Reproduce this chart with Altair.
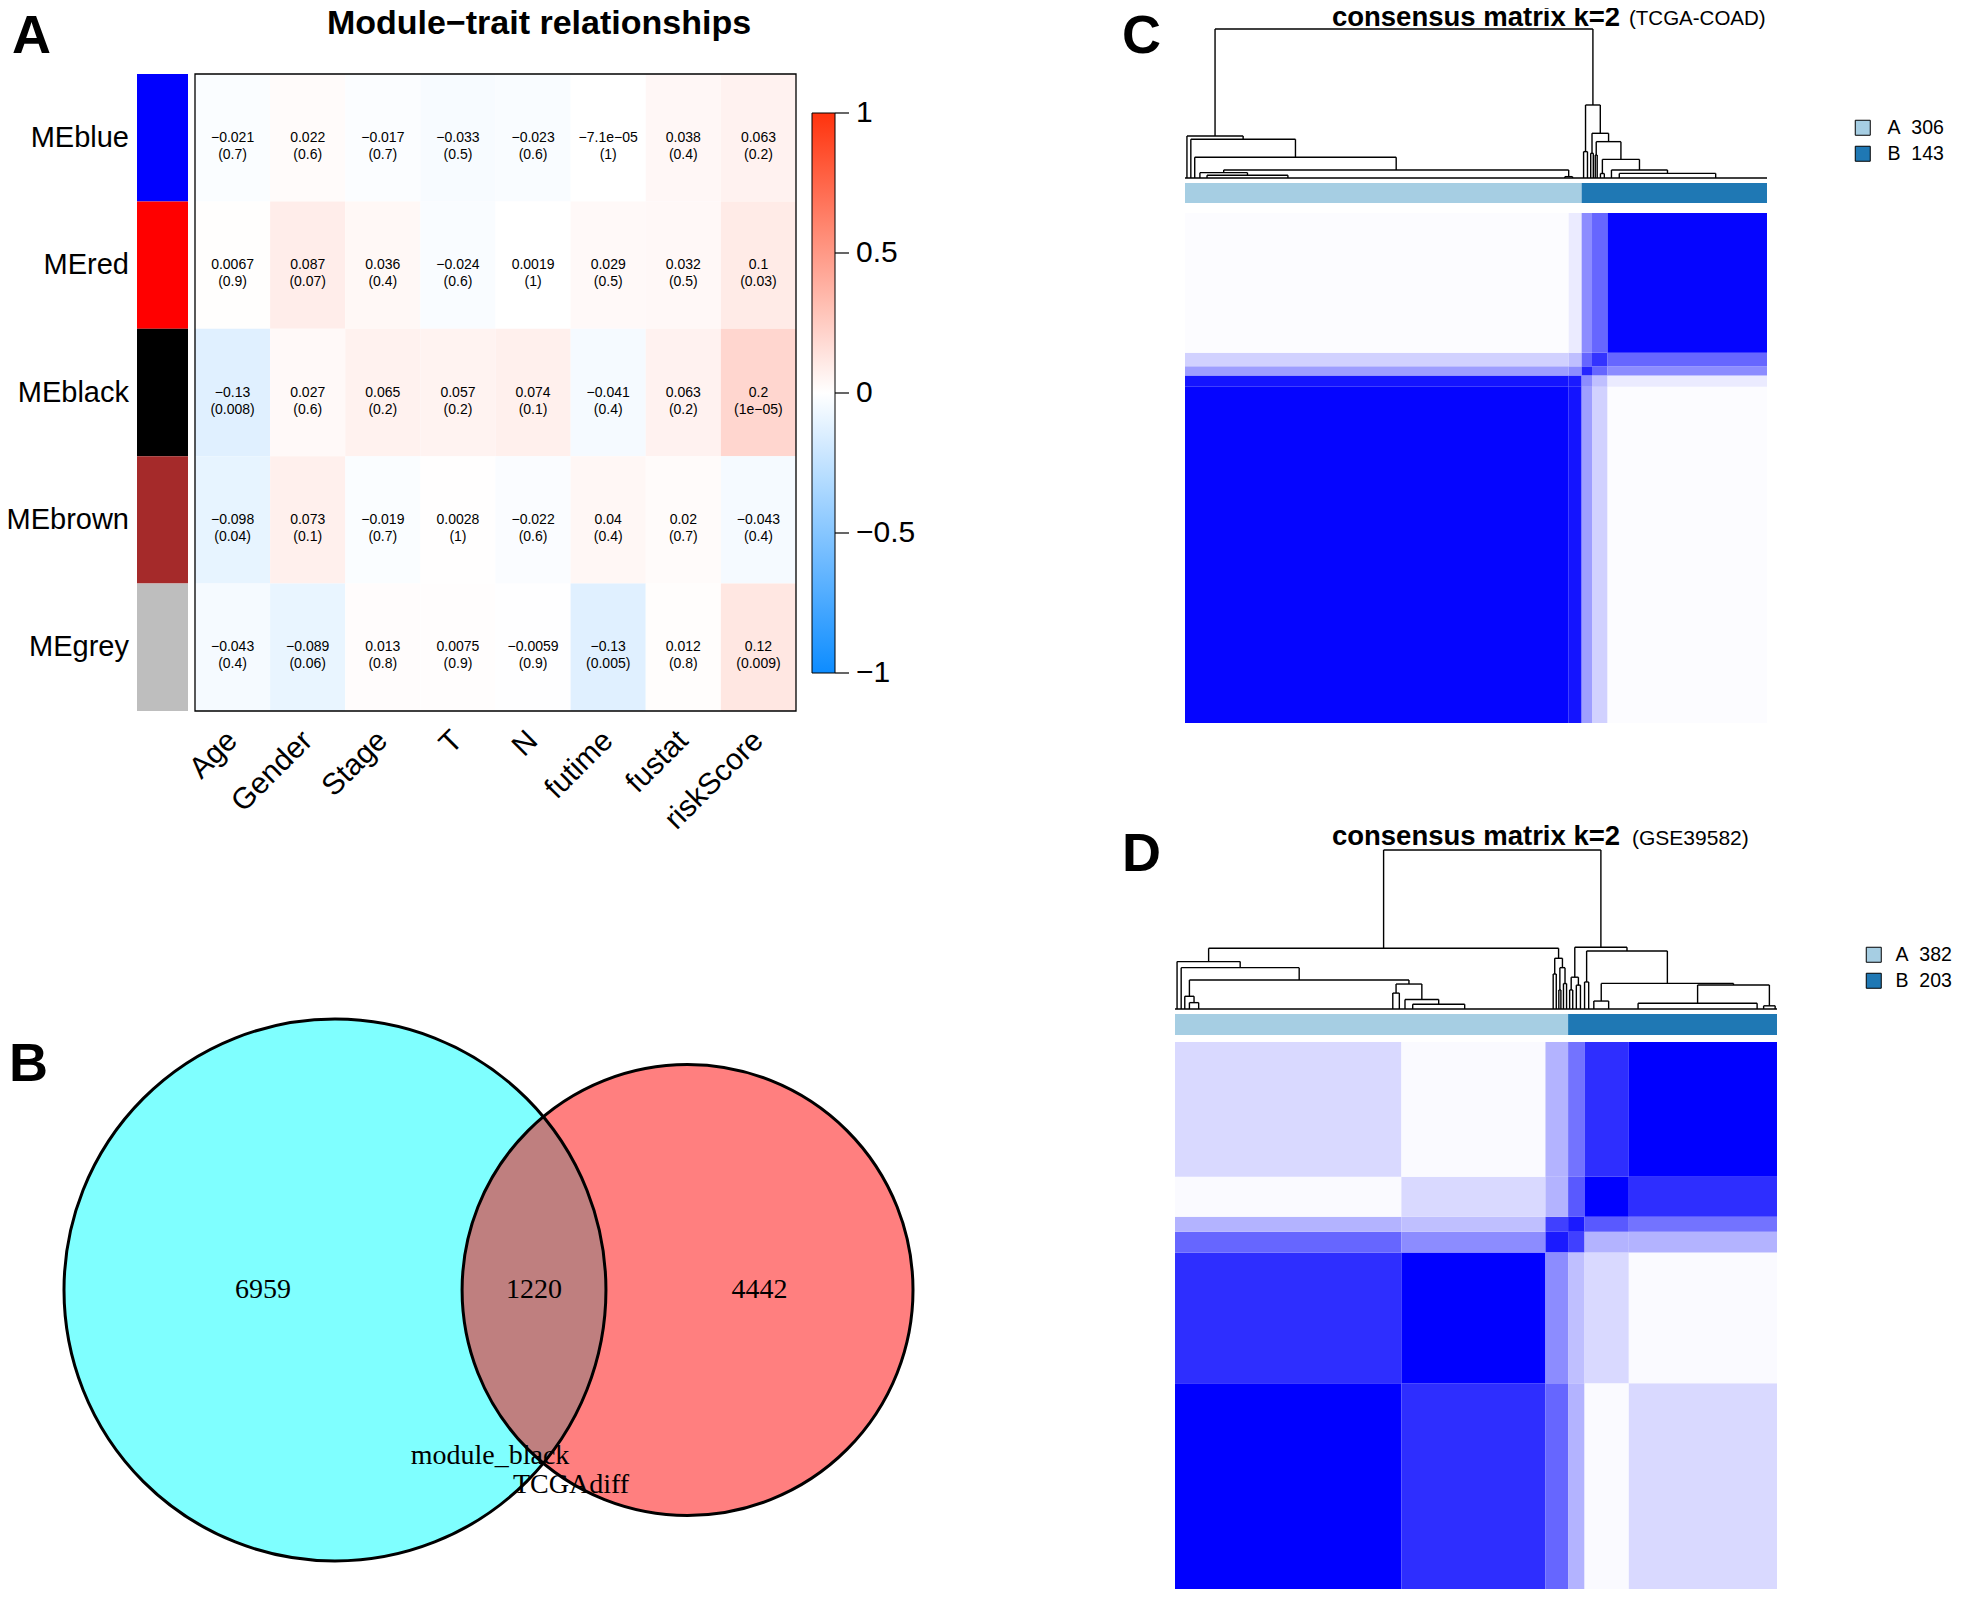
import math
import altair as alt
import pandas as pd

OFF = 8  # page margin: all layout numbers below are page pixels


def R(a, b):
    return [a - OFF, b - OFF]


def P(v):
    return v - OFF


SANS = "Liberation Sans"
SERIF = "Liberation Serif"

# ---------------- Panel A: module-trait relationships ----------------
modules = ["MEblue", "MEred", "MEblack", "MEbrown", "MEgrey"]
module_colors = ["#0000FF", "#FF0000", "#000000", "#A52A2A", "#BEBEBE"]
traits = ["Age", "Gender", "Stage", "T", "N", "futime", "fustat", "riskScore"]

cor_meblue = [-0.021, 0.022, -0.017, -0.033, -0.023, -7.1e-05, 0.038, 0.063]
p_meblue = [0.7, 0.6, 0.7, 0.5, 0.6, 1, 0.4, 0.2]
cor_mered = [0.0067, 0.087, 0.036, -0.024, 0.0019, 0.029, 0.032, 0.1]
p_mered = [0.9, 0.07, 0.4, 0.6, 1, 0.5, 0.5, 0.03]
cor_meblack = [-0.13, 0.027, 0.065, 0.057, 0.074, -0.041, 0.063, 0.2]
p_meblack = [0.008, 0.6, 0.2, 0.2, 0.1, 0.4, 0.2, 1e-05]
cor_mebrown = [-0.098, 0.073, -0.019, 0.0028, -0.022, 0.04, 0.02, -0.043]
p_mebrown = [0.04, 0.1, 0.7, 1, 0.6, 0.4, 0.7, 0.4]
cor_megrey = [-0.043, -0.089, 0.013, 0.0075, -0.0059, -0.13, 0.012, 0.12]
p_megrey = [0.4, 0.06, 0.8, 0.9, 0.9, 0.005, 0.8, 0.009]
colorbar_ticks = [-1, -0.5, 0, 0.5, 1]
title_a = "Module\u2212trait relationships"

# ---------------- Panel B: Venn ----------------
venn_sets = ["module_black", "TCGAdiff"]
venn_only = [6959, 4442]
venn_both = 1220
venn_fills = ["#00FFFF", "#FF0000"]

# ---------------- Panel C / D: consensus matrices ----------------
cluster_labels = ["A", "B"]
cluster_colors = ["#A6CEE3", "#1F78B4"]
c_counts = [306, 143]
d_counts = [382, 203]
c_title_note = "(TCGA-COAD)"
d_title_note = "(GSE39582)"
cons_title = "consensus matrix k=2"

# block boundaries along the sample order, and block-mean consensus
c_segments = [0, 296, 306, 314, 326, 449]
c_consensus = [
    [0.98, 0.92, 0.38, 0.18, 0.01],
    [0.92, 0.90, 0.45, 0.25, 0.08],
    [0.38, 0.45, 0.85, 0.60, 0.45],
    [0.18, 0.25, 0.60, 0.80, 0.60],
    [0.01, 0.08, 0.45, 0.60, 0.98],
]
d_segments = [0, 220, 360, 382, 398, 441, 585]
d_consensus = [
    [1.00, 0.82, 0.60, 0.30, 0.02, 0.15],
    [0.82, 1.00, 0.45, 0.25, 0.15, 0.02],
    [0.60, 0.45, 0.90, 0.75, 0.30, 0.30],
    [0.30, 0.25, 0.75, 0.90, 0.65, 0.55],
    [0.02, 0.15, 0.30, 0.65, 1.00, 0.82],
    [0.15, 0.02, 0.30, 0.55, 0.82, 1.00],
]


def G(n, frac):
    return ("g", n, frac)


# dendrograms: (height, left, right); G(n, frac) = n samples merged at 0
c_tree = (1.0,
          (0.282, G(3, .5),
           (0.26, G(3, .5),
            (0.139, G(3, .5),
             (0.054,
              (0.036, G(5, .5), (0.018, G(6, .5), G(270, .22))),
              (0.009, G(6, .5), G(10, .3)))))),
          (0.49,
           (0.177, G(3, .5), G(3, .5)),
           (0.30,
            (0.166, G(2, .5), G(2, .5)),
            (0.244,
             (0.154, G(1, .5), G(2, .5)),
             (0.125,
              (0.03, G(3, .5), G(3, .5)),
              (0.054, G(8, .5), (0.031, G(17, .12), G(99, .6))))))))

d_tree = (1.0,
          (0.382,
           (0.298, G(4, .5),
            (0.26, G(4, .5),
             (0.182,
              (0.08, G(3, .5), (0.04, G(6, .5), G(30, .2))),
              (0.157,
               (0.10, G(168, .98), G(6, .5)),
               (0.06, G(5, .5), (0.03, G(10, .5), G(130, .35))))))),
           (0.319,
            (0.22, G(3, .5), G(3, .5)),
            (0.26, (0.12, G(2, .5), G(2, .5)), (0.16, G(3, .5), G(3, .5))))),
          (0.388,
           (0.20, (0.12, G(3, .5), G(3, .5)), (0.15, G(4, .5), G(4, .5))),
           (0.365,
            (0.17, G(4, .5), G(4, .5)),
            (0.161,
             (0.05, G(6, .5), G(38, .3)),
             (0.151,
              (0.036, G(4, .5), G(116, .98)),
              (0.02, G(8, .5), G(9, .8)))))))


# ---------------- helpers ----------------
def sc(domain, rng):
    return alt.Scale(domain=domain, range=rng, nice=False, zero=False)


def text_layer(text, x, y, size, font=SANS, weight="normal", align="left",
               baseline="alphabetic"):
    return alt.Chart(pd.DataFrame({"t": [text]})).mark_text(
        font=font, fontSize=size, fontWeight=weight, align=align,
        baseline=baseline, color="black"
    ).encode(x=alt.value(P(x)), y=alt.value(P(y)), text="t:N")


def fmt(v):
    return f"{v:.2g}".replace("-", "\u2212")


layers = []

# ---------------- Panel A layers ----------------
cors = [cor_meblue, cor_mered, cor_meblack, cor_mebrown, cor_megrey]
pvals = [p_meblue, p_mered, p_meblack, p_mebrown, p_megrey]
rows = []
for mi, m in enumerate(modules):
    for ti, t in enumerate(traits):
        c = cors[mi][ti]
        p = pvals[mi][ti]
        rows.append(dict(module=m, trait=t, ti=ti, ti1=ti + 1, tc=ti + 0.5,
                         mi=mi, mi1=mi + 1, mc=mi + 0.5, cor=c,
                         label=fmt(c) + "\n(" + fmt(p) + ")"))
dfA = pd.DataFrame(rows)
dfM = pd.DataFrame(dict(module=modules, col=module_colors,
                        mi=list(range(len(modules))),
                        mi1=[i + 1 for i in range(len(modules))],
                        mc=[i + 0.5 for i in range(len(modules))],
                        c0=[0] * len(modules), c1=[1] * len(modules)))
dfT = pd.DataFrame(dict(trait=traits, tc=[i + 0.5 for i in range(len(traits))]))

xA = sc([0, len(traits)], R(195, 796))
yA = sc([0, len(modules)], R(74, 711))

layers.append(alt.Chart(dfM).mark_rect().encode(
    x=alt.X("c0:Q", scale=sc([0, 1], R(137, 188)), axis=None), x2="c1:Q",
    y=alt.Y("mi:Q", scale=yA, axis=None), y2="mi1:Q",
    color=alt.Color("col:N", scale=None)))

legA = alt.Legend(orient="none", legendX=P(812), legendY=P(113),
                  direction="vertical", type="gradient", gradientLength=560,
                  gradientThickness=23, values=colorbar_ticks, title=None,
                  labelFontSize=1, labelExpr="''", labelColor="black",
                  gradientStrokeColor="black", gradientStrokeWidth=1, padding=0)
layers.append(alt.Chart(dfA).mark_rect(strokeWidth=0).encode(
    x=alt.X("ti:Q", scale=xA, axis=None), x2="ti1:Q",
    y=alt.Y("mi:Q", scale=yA, axis=None), y2="mi1:Q",
    color=alt.Color("cor:Q", scale=alt.Scale(domain=[-1, 0, 1], interpolate="rgb",
                                             range=["#0D8CFF", "#FFFFFF", "#FF330D"]),
                    legend=legA)))

layers.append(alt.Chart(dfA).mark_text(
    font=SANS, fontSize=14, lineBreak="\n", lineHeight=17, align="center",
    baseline="middle", color="black").encode(
    x=alt.X("tc:Q", scale=xA, axis=None), y=alt.Y("mc:Q", scale=yA, axis=None),
    text="label:N"))

dfBox = pd.DataFrame(dict(x0=[0], x1=[len(traits)], y0=[0], y1=[len(modules)]))
layers.append(alt.Chart(dfBox).mark_rect(fillOpacity=0, stroke="black",
                                         strokeWidth=1.3).encode(
    x=alt.X("x0:Q", scale=xA, axis=None), x2="x1:Q",
    y=alt.Y("y0:Q", scale=yA, axis=None), y2="y1:Q"))

layers.append(alt.Chart(dfM).mark_text(
    font=SANS, fontSize=29, align="right", baseline="middle", color="black").encode(
    x=alt.value(P(129)), y=alt.Y("mc:Q", scale=yA, axis=None), text="module:N"))

layers.append(alt.Chart(dfT).mark_text(
    font=SANS, fontSize=30, align="right", baseline="middle", angle=315,
    color="black").encode(
    x=alt.X("tc:Q", scale=xA, axis=None), y=alt.value(P(736)), text="trait:N"))

# colour-bar ticks and tick labels
ycb = sc([-1, 1], R(673, 113))
dfCB = pd.DataFrame({"v": colorbar_ticks, "lab": [fmt(v) for v in colorbar_ticks]})
layers.append(alt.Chart(dfCB).mark_rule(color="black", strokeWidth=1.2).encode(
    y=alt.Y("v:Q", scale=ycb, axis=None),
    x=alt.value(P(835)), x2=alt.value(P(849))))
layers.append(alt.Chart(dfCB).mark_text(
    font=SANS, fontSize=30, align="left", baseline="middle", color="black").encode(
    y=alt.Y("v:Q", scale=ycb, axis=None), x=alt.value(P(856)), text="lab:N"))

layers.append(text_layer(title_a, 539, 34, 34, weight="bold", align="center"))

# ---------------- Panel B layers (Venn) ----------------
tot1 = venn_only[0] + venn_both
tot2 = venn_only[1] + venn_both
r1 = math.sqrt(tot1 / math.pi)
r2 = math.sqrt(tot2 / math.pi)


def lens_area(d):
    a1 = r1 * r1 * math.acos((d * d + r1 * r1 - r2 * r2) / (2 * d * r1))
    a2 = r2 * r2 * math.acos((d * d + r2 * r2 - r1 * r1) / (2 * d * r2))
    a3 = 0.5 * math.sqrt((-d + r1 + r2) * (d + r1 - r2) * (d - r1 + r2) * (d + r1 + r2))
    return a1 + a2 - a3


lo, hi = abs(r1 - r2) + 1e-9, r1 + r2 - 1e-9
for _ in range(200):
    mid = (lo + hi) / 2
    if lens_area(mid) > venn_both:
        lo = mid
    else:
        hi = mid
dist = (lo + hi) / 2

vx0, vx1 = 64, 913
k = (vx1 - vx0) / (dist + r2 + r1)
vcy = 1290
xV = sc([-r1, dist + r2], R(vx0, vx1))
yV = sc([-r1, r1], [P(vcy + r1 * k), P(vcy - r1 * k)])
d2 = [(2 * r1) ** 2, (2 * r2) ** 2]
sV = alt.Scale(domain=[0, max(d2)], range=[0, max(d2) * k * k], zero=True, nice=False)
dfV = pd.DataFrame(dict(name=venn_sets, cx=[0, dist], cy=[0, 0], d2=d2, fill=venn_fills))

layers.append(alt.Chart(dfV).mark_point(shape="circle", filled=True, opacity=0.5,
                                        strokeWidth=0).encode(
    x=alt.X("cx:Q", scale=xV, axis=None), y=alt.Y("cy:Q", scale=yV, axis=None),
    size=alt.Size("d2:Q", scale=sV, legend=None),
    color=alt.Color("fill:N", scale=None), order=alt.Order("cx:Q")))
layers.append(alt.Chart(dfV).mark_point(shape="circle", filled=False, opacity=1,
                                        color="black", strokeWidth=3).encode(
    x=alt.X("cx:Q", scale=xV, axis=None), y=alt.Y("cy:Q", scale=yV, axis=None),
    size=alt.Size("d2:Q", scale=sV, legend=None)))

dfVN = pd.DataFrame(dict(
    n=[str(venn_only[0]), str(venn_both), str(venn_only[1])],
    x=[(-r1 + dist - r2) / 2, (dist - r2 + r1) / 2, (r1 + dist + r2) / 2],
    y=[0, 0, 0]))
layers.append(alt.Chart(dfVN).mark_text(font=SERIF, fontSize=28, align="center",
                                        baseline="middle", color="black").encode(
    x=alt.X("x:Q", scale=xV, axis=None), y=alt.Y("y:Q", scale=yV, axis=None),
    text="n:N"))
layers.append(text_layer(venn_sets[0], 490, 1456, 28, font=SERIF, align="center",
                         baseline="middle"))
layers.append(text_layer(venn_sets[1], 571, 1485, 28, font=SERIF, align="center",
                         baseline="middle"))


# ---------------- Panel C / D layers ----------------
def build(node, start, segs):
    if node[0] == "g":
        _, n, f = node
        return start + f * n, 0.0, start + n
    h, left, right = node
    xl, hl, e1 = build(left, start, segs)
    xr, hr, e2 = build(right, e1, segs)
    segs.append((xl, xl, hl, h))
    segs.append((xr, xr, hr, h))
    segs.append((xl, xr, h, h))
    return (xl + xr) / 2, h, e2


def consensus_panel(counts, segments, consensus, tree, xr, ymat, ydend, ybar,
                    leg_xy, leg_off, note, note_x, note_size, title_base, note_base):
    n = sum(counts)
    xM = sc([0, n], R(*xr))
    yM = sc([0, n], R(ymat[1], ymat[0]))
    out = []
    cells = []
    for i in range(len(segments) - 1):
        for j in range(len(segments) - 1):
            cells.append(dict(x0=segments[j], x1=segments[j + 1],
                              y0=segments[i], y1=segments[i + 1], v=consensus[i][j]))
    out.append(alt.Chart(pd.DataFrame(cells)).mark_rect(strokeWidth=0).encode(
        x=alt.X("x0:Q", scale=xM, axis=None), x2="x1:Q",
        y=alt.Y("y0:Q", scale=yM, axis=None), y2="y1:Q",
        color=alt.Color("v:Q", scale=alt.Scale(domain=[0, 1], interpolate="rgb",
                                               range=["#FFFFFF", "#0000FF"]),
                        legend=None)))
    segs = [(0, n, 0, 0)]
    build(tree, 0, segs)
    dfS = pd.DataFrame(segs, columns=["x0", "x1", "y0", "y1"])
    out.append(alt.Chart(dfS).mark_rule(color="black", strokeWidth=1.4).encode(
        x=alt.X("x0:Q", scale=xM, axis=None), x2="x1:Q",
        y=alt.Y("y0:Q", scale=sc([0, 1], R(ydend[1], ydend[0])), axis=None),
        y2="y1:Q"))
    starts = [sum(counts[:i]) for i in range(len(counts))]
    labs = [f"{l}\u00a0\u00a0{c}" for l, c in zip(cluster_labels, counts)]
    dfB = pd.DataFrame(dict(lab=labs, s0=starts, s1=[s + c for s, c in zip(starts, counts)],
                            t0=[0] * len(counts), t1=[1] * len(counts)))
    leg = alt.Legend(orient="none", legendX=P(leg_xy[0]), legendY=P(leg_xy[1]),
                     title=None, symbolType="square", symbolSize=225,
                     symbolStrokeColor="black", symbolStrokeWidth=1,
                     labelFontSize=19.5, labelFont=SANS, labelOffset=leg_off,
                     rowPadding=5, padding=0, labelColor="black", symbolOpacity=1)
    out.append(alt.Chart(dfB).mark_rect(strokeWidth=0).encode(
        x=alt.X("s0:Q", scale=xM, axis=None), x2="s1:Q",
        y=alt.Y("t0:Q", scale=sc([0, 1], R(ybar[1], ybar[0])), axis=None),
        y2="t1:Q",
        color=alt.Color("lab:N", scale=alt.Scale(domain=labs, range=cluster_colors),
                        legend=leg)))
    out.append(text_layer(cons_title, (xr[0] + xr[1]) / 2, title_base, 27.5,
                          weight="bold", align="center"))
    out.append(text_layer(note, note_x, note_base, note_size, align="left"))
    return out


layers += consensus_panel(c_counts, c_segments, c_consensus, c_tree,
                          xr=(1185, 1767), ymat=(213, 723), ydend=(29, 178),
                          ybar=(183, 203), leg_xy=(1853, 118), leg_off=15,
                          note=c_title_note, note_x=1629, note_size=20.5,
                          title_base=26, note_base=25)
layers += consensus_panel(d_counts, d_segments, d_consensus, d_tree,
                          xr=(1175, 1777), ymat=(1042, 1589), ydend=(850, 1009),
                          ybar=(1014, 1035), leg_xy=(1864, 945), leg_off=12,
                          note=d_title_note, note_x=1632, note_size=21,
                          title_base=845, note_base=845)

# ---------------- panel letters ----------------
layers.append(text_layer("A", 12, 53, 54, weight="bold"))
layers.append(text_layer("B", 9, 1081, 54, weight="bold"))
layers.append(text_layer("C", 1122, 53, 54, weight="bold"))
layers.append(text_layer("D", 1122, 871, 54, weight="bold"))

chart = alt.layer(*layers).resolve_scale(
    x="independent", y="independent", color="independent", size="independent"
).properties(
    width=1949, height=1583, padding=0,
    autosize=alt.AutoSizeParams(type="none")
).configure(font=SANS).configure_view(strokeWidth=0)

chart.save("out.html", embed_options={"renderer": "svg", "actions": False})
